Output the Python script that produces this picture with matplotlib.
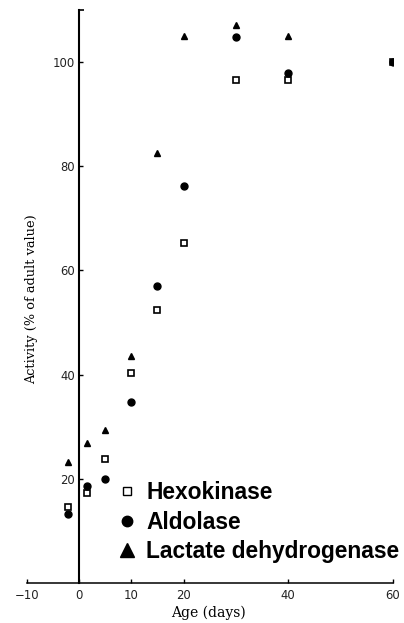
import matplotlib.pyplot as plt
from matplotlib.lines import Line2D

# Age (days) and activity (% of adult value).
hexo_age = [-2, 1.5, 5, 10, 15, 20, 30, 40, 60]
hexo_act = [14.6, 17.3, 23.9, 40.4, 52.4, 65.2, 96.6, 96.5, 100]

aldo_age = [-2, 1.5, 5, 10, 15, 20, 30, 40, 60]
aldo_act = [13.3, 18.7, 19.9, 34.7, 57.1, 76.2, 104.9, 98.0, 100]

ldh_age = [-2, 1.5, 5, 10, 15, 20, 30, 40]
ldh_act = [23.3, 26.9, 29.4, 43.6, 82.6, 105.0, 107.2, 105.0]

x_ticks = [-10, 0, 10, 20, 40, 60]
x_labels = ["\u221210", "0", "10", "20", "40", "60"]
y_ticks = [20, 40, 60, 80, 100]
legend_labels = ["Hexokinase", "Aldolase", "Lactate dehydrogenase"]


def main() -> None:
    fig = plt.figure(figsize=(4.04, 6.23), dpi=100)
    ax = fig.add_axes([0.0658, 0.0642, 0.9069, 0.9197])

    ax.plot(hexo_age, hexo_act, "s", ms=4.3, mfc="white", mec="black", mew=1.2)
    ax.plot(aldo_age, aldo_act, "o", ms=5, color="black")
    ax.plot(ldh_age, ldh_act, "^", ms=5, color="black")

    ax.set_xlim(-10, 60)
    ax.set_ylim(0, 110)

    # Axes drawn through the origin, like the original figure.
    ax.spines["left"].set_position(("data", 0))
    ax.spines["bottom"].set_position(("data", 0))
    ax.spines["top"].set_visible(False)
    ax.spines["right"].set_visible(False)
    ax.spines["left"].set_linewidth(1.5)
    ax.spines["bottom"].set_linewidth(1.1)

    ax.set_xticks(x_ticks)
    ax.set_xticklabels(x_labels)
    ax.set_yticks(y_ticks)
    ax.set_yticks([110], minor=True)
    ax.tick_params(axis="both", which="both", direction="in", length=3,
                   width=1.0, labelsize=8.4, labelcolor="#222222")
    ax.tick_params(axis="x", pad=4)
    ax.tick_params(axis="y", pad=3)
    ax.tick_params(axis="y", which="minor", length=3.5, width=1.2)

    ax.set_xlabel("Age (days)", family="DejaVu Serif", fontsize=10)
    ax.xaxis.set_label_coords(0.497, -0.039)
    ax.set_ylabel("Activity (% of adult value)", family="DejaVu Serif",
                  fontsize=9.3)
    ax.yaxis.set_label_coords(0.031, 0.495)

    handles = [
        Line2D([], [], ls="none", marker="s", ms=6, mfc="white", mec="black", mew=1.0),
        Line2D([], [], ls="none", marker="o", ms=7.5, color="black"),
        Line2D([], [], ls="none", marker="^", ms=10.5, color="black"),
    ]
    ax.legend(
        handles, legend_labels,
        loc="upper left",
        bbox_to_anchor=(116 / 404, 1 - 481 / 623),
        bbox_transform=fig.transFigure,
        frameon=False,
        borderpad=0, borderaxespad=0,
        handlelength=1.0, handletextpad=0.32, labelspacing=0.29,
        prop={"family": "Liberation Sans", "weight": "bold", "size": 16.4},
    )

    fig.savefig("out.png", dpi=100)


if __name__ == "__main__":
    main()
